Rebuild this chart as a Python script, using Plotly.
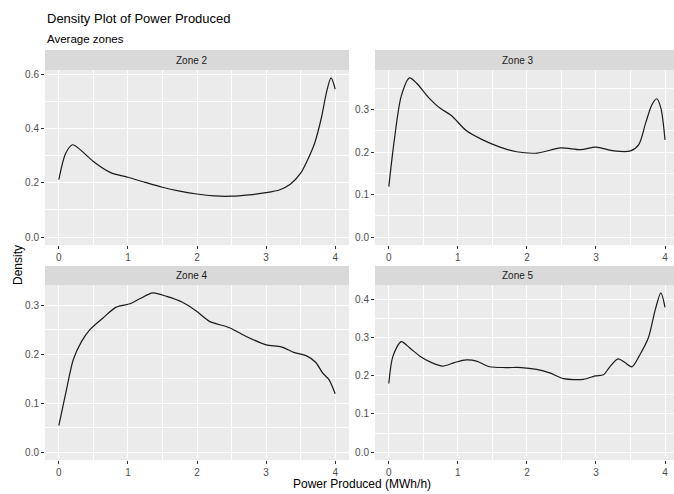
import plotly.graph_objects as go

# Kernel density estimates of average power produced, per zone
zone_names = ["Zone 2", "Zone 3", "Zone 4", "Zone 5"]

power_zone2 = [0.0, 0.1, 0.2, 0.3, 0.5, 0.75, 1.0, 1.25, 1.5, 1.75, 2.0, 2.25, 2.5,
               2.75, 3.0, 3.2, 3.35, 3.5, 3.6, 3.7, 3.8, 3.87, 3.94, 4.0]
density_zone2 = [0.212, 0.31, 0.341, 0.325, 0.279, 0.238, 0.221, 0.202, 0.184, 0.17,
                 0.159, 0.152, 0.151, 0.156, 0.164, 0.175, 0.195, 0.236, 0.285, 0.345,
                 0.44, 0.53, 0.588, 0.547]

power_zone3 = [0.0, 0.08, 0.18, 0.3, 0.4, 0.57, 0.74, 0.91, 1.12, 1.36, 1.61, 1.85,
               2.15, 2.49, 2.78, 3.0, 3.26, 3.5, 3.62, 3.72, 3.81, 3.88, 3.94, 4.0]
density_zone3 = [0.119, 0.229, 0.332, 0.375, 0.363, 0.33, 0.304, 0.286, 0.251, 0.229,
                 0.212, 0.201, 0.198, 0.21, 0.206, 0.212, 0.203, 0.203, 0.218, 0.269,
                 0.312, 0.326, 0.304, 0.229]

power_zone4 = [0.0, 0.11, 0.21, 0.33, 0.45, 0.64, 0.83, 1.03, 1.17, 1.36, 1.56, 1.79,
               1.99, 2.18, 2.47, 2.73, 3.0, 3.22, 3.41, 3.58, 3.72, 3.82, 3.91, 4.0]
density_zone4 = [0.054, 0.127, 0.189, 0.226, 0.25, 0.274, 0.296, 0.303, 0.313, 0.325,
                 0.318, 0.306, 0.288, 0.267, 0.254, 0.235, 0.219, 0.215, 0.203, 0.197,
                 0.183, 0.161, 0.148, 0.119]

power_zone5 = [0.0, 0.06, 0.18, 0.3, 0.45, 0.62, 0.78, 0.95, 1.12, 1.27, 1.46, 1.7,
               1.92, 2.14, 2.33, 2.53, 2.82, 2.99, 3.11, 3.2, 3.32, 3.42, 3.52, 3.64,
               3.76, 3.86, 3.94, 4.0]
density_zone5 = [0.18, 0.252, 0.29, 0.274, 0.252, 0.235, 0.226, 0.235, 0.242, 0.239,
                 0.224, 0.222, 0.222, 0.217, 0.208, 0.193, 0.191, 0.2, 0.203, 0.224,
                 0.245, 0.235, 0.224, 0.257, 0.301, 0.375, 0.418, 0.38]

x_ticks = [0, 1, 2, 3, 4]

W, H = 674, 494
PANEL_BG = "#EBEBEB"
STRIP_BG = "#D9D9D9"
FONT = "Liberation Sans, Arial, sans-serif"

# facet geometry in pixels: (left, right) columns, (strip top, panel top, panel bottom) rows
cols = [(45, 349), (375, 674)]
rows = [(50, 70, 245), (266, 285, 460)]
x_ranges = [[-0.2, 4.2], [-0.2, 4.13]]
strip_text_x = [192, 518]

series = [
    (power_zone2, density_zone2, 0.2, 0.1),
    (power_zone3, density_zone3, 0.1, 0.05),
    (power_zone4, density_zone4, 0.1, 0.05),
    (power_zone5, density_zone5, 0.1, 0.05),
]

fig = go.Figure()
shapes = []
annotations = []
layout_axes = {}

for i, (xs, ys, ydt, ymin_dt) in enumerate(series):
    r, c = divmod(i, 2)
    left, right = cols[c]
    strip_top, top, bottom = rows[r]
    n = i + 1
    xa = "x" if n == 1 else f"x{n}"
    ya = "y" if n == 1 else f"y{n}"

    fig.add_trace(go.Scatter(
        x=xs, y=ys, mode="lines", xaxis=xa, yaxis=ya,
        line=dict(color="#1a1a1a", width=1.2, shape="spline", smoothing=0.8),
        showlegend=False, hoverinfo="skip",
    ))

    ymax = max(ys)
    pad = 0.05 * ymax
    layout_axes[f"xaxis{'' if n == 1 else n}"] = dict(
        domain=[left / W, right / W], anchor=ya, range=x_ranges[c],
        tickvals=x_ticks, ticktext=[str(t) for t in x_ticks],
        showgrid=True, gridcolor="white", gridwidth=1.1,
        minor=dict(dtick=0.5, tick0=0, showgrid=True, gridcolor="white", gridwidth=0.5),
        zeroline=False, showline=False,
        ticks="outside", ticklen=3, tickwidth=1, tickcolor="#333333",
        tickfont=dict(family=FONT, size=10, color="#4D4D4D"),
        fixedrange=True,
    )
    layout_axes[f"yaxis{'' if n == 1 else n}"] = dict(
        domain=[(H - bottom) / H, (H - top) / H], anchor=xa,
        range=[-pad, ymax + pad], dtick=ydt, tick0=0, tickformat=".1f",
        showgrid=True, gridcolor="white", gridwidth=1.1,
        minor=dict(dtick=ymin_dt, tick0=0, showgrid=True, gridcolor="white", gridwidth=0.5),
        zeroline=False, showline=False,
        ticks="outside", ticklen=3, tickwidth=1, tickcolor="#333333",
        tickfont=dict(family=FONT, size=10, color="#4D4D4D"),
        fixedrange=True,
    )

    # facet strip
    shapes.append(dict(
        type="rect", xref="paper", yref="paper", layer="below",
        x0=left / W, x1=right / W, y0=(H - top) / H, y1=(H - strip_top) / H,
        fillcolor=STRIP_BG, line=dict(width=0),
    ))
    annotations.append(dict(
        text=zone_names[i], xref="paper", yref="paper",
        x=strip_text_x[c] / W, y=(H - (strip_top + top) / 2) / H,
        xanchor="center", yanchor="middle", showarrow=False,
        font=dict(family=FONT, size=10, color="#1A1A1A"),
    ))

annotations += [
    dict(text="Density Plot of Power Produced", xref="paper", yref="paper",
         x=45 / W, y=(H - 19) / H, xanchor="left", yanchor="middle", showarrow=False,
         font=dict(family=FONT, size=13, color="black")),
    dict(text="Average zones", xref="paper", yref="paper",
         x=45 / W, y=(H - 39) / H, xanchor="left", yanchor="middle", showarrow=False,
         font=dict(family=FONT, size=11.5, color="black")),
    dict(text="Power Produced (MWh/h)", xref="paper", yref="paper",
         x=362 / W, y=(H - 484) / H, xanchor="center", yanchor="middle", showarrow=False,
         font=dict(family=FONT, size=12, color="black")),
    dict(text="Density", xref="paper", yref="paper", textangle=-90,
         x=18 / W, y=(H - 265) / H, xanchor="center", yanchor="middle", showarrow=False,
         font=dict(family=FONT, size=12, color="black")),
]

fig.update_layout(
    width=W, height=H,
    margin=dict(l=0, r=0, t=0, b=0),
    paper_bgcolor="white", plot_bgcolor=PANEL_BG,
    shapes=shapes, annotations=annotations,
    showlegend=False,
    **layout_axes,
)

fig.write_html("out.html", config={"displayModeBar": False})
